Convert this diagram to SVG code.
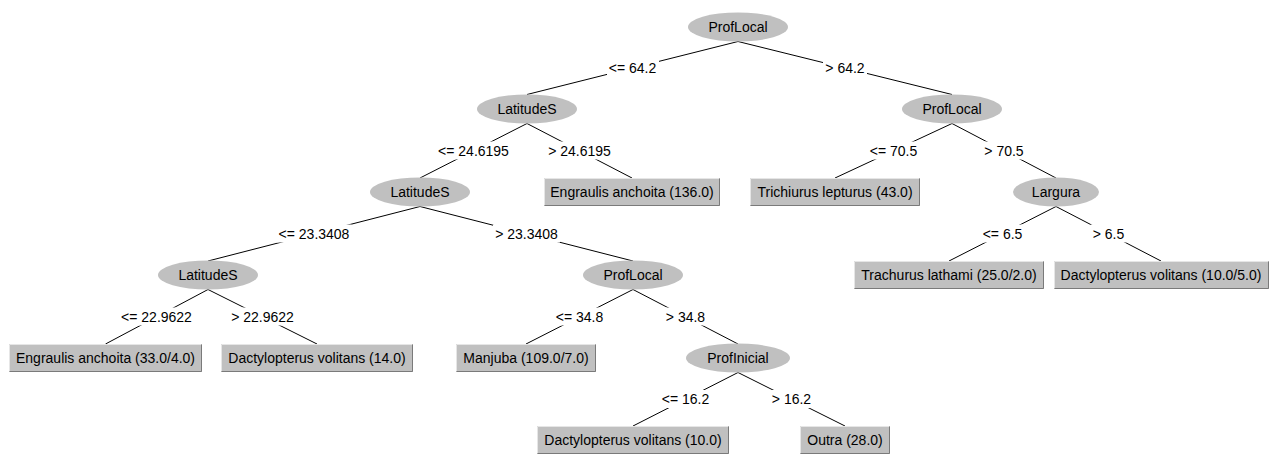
<svg xmlns="http://www.w3.org/2000/svg" width="1272" height="455" viewBox="0 0 1272 455">
  <style>
    text { font-family: "Liberation Sans", Arial, sans-serif; font-size: 14px; fill: #000; text-anchor: middle; }
    .split { fill: #c0c0c0; stroke: none; }
    .leaf { fill: #c0c0c0; stroke: none; }
    .hi { fill: none; stroke: #e6e6e6; stroke-width: 1; }
    .lo { fill: none; stroke: #7a7a7a; stroke-width: 1; }
    .edge { stroke: #000; stroke-width: 1; fill: none; }
    .lblbg { fill: #fff; stroke: none; }
  </style>

  <rect x="0" y="0" width="1272" height="455" fill="#fff"/>

  <!-- connectors: parent bottom-centre to child top-centre, labels on white plates -->
  <g id="edges">
    <line class="edge" x1="738" y1="41.5" x2="527" y2="94.5"/>
    <line class="edge" x1="738" y1="41.5" x2="952" y2="94.5"/>
    <line class="edge" x1="527" y1="123.5" x2="420" y2="178"/>
    <line class="edge" x1="527" y1="123.5" x2="632" y2="178"/>
    <line class="edge" x1="952" y1="123.5" x2="835" y2="178"/>
    <line class="edge" x1="952" y1="123.5" x2="1056" y2="178"/>
    <line class="edge" x1="420" y1="206.5" x2="208" y2="261"/>
    <line class="edge" x1="420" y1="206.5" x2="633" y2="261"/>
    <line class="edge" x1="1056" y1="206.5" x2="949" y2="261"/>
    <line class="edge" x1="1056" y1="206.5" x2="1161" y2="261"/>
    <line class="edge" x1="208" y1="289.5" x2="105.5" y2="344"/>
    <line class="edge" x1="208" y1="289.5" x2="317" y2="344"/>
    <line class="edge" x1="633" y1="289.5" x2="526" y2="344"/>
    <line class="edge" x1="633" y1="289.5" x2="738" y2="344"/>
    <line class="edge" x1="738" y1="372.5" x2="633" y2="426"/>
    <line class="edge" x1="738" y1="372.5" x2="845" y2="426"/>

    <rect class="lblbg" x="607" y="59" width="52" height="18"/>
    <text x="632.5" y="73">&lt;= 64.2</text>
    <rect class="lblbg" x="823" y="59" width="44" height="18"/>
    <text x="845" y="73">&gt; 64.2</text>

    <rect class="lblbg" x="436" y="141.5" width="75" height="18"/>
    <text x="473.5" y="155.5">&lt;= 24.6195</text>
    <rect class="lblbg" x="546" y="141.5" width="67" height="18"/>
    <text x="579.5" y="155.5">&gt; 24.6195</text>
    <rect class="lblbg" x="868" y="141.5" width="52" height="18"/>
    <text x="893.5" y="155.5">&lt;= 70.5</text>
    <rect class="lblbg" x="982" y="141.5" width="44" height="18"/>
    <text x="1004" y="155.5">&gt; 70.5</text>

    <rect class="lblbg" x="276.5" y="224.5" width="75" height="18"/>
    <text x="314" y="238.5">&lt;= 23.3408</text>
    <rect class="lblbg" x="493" y="224.5" width="67" height="18"/>
    <text x="526.5" y="238.5">&gt; 23.3408</text>
    <rect class="lblbg" x="980.5" y="224.5" width="44" height="18"/>
    <text x="1002.5" y="238.5">&lt;= 6.5</text>
    <rect class="lblbg" x="1090.5" y="224.5" width="36" height="18"/>
    <text x="1108.5" y="238.5">&gt; 6.5</text>

    <rect class="lblbg" x="119" y="307.5" width="75" height="18"/>
    <text x="156.5" y="321.5">&lt;= 22.9622</text>
    <rect class="lblbg" x="229" y="307.5" width="67" height="18"/>
    <text x="262.5" y="321.5">&gt; 22.9622</text>
    <rect class="lblbg" x="554" y="307.5" width="52" height="18"/>
    <text x="579.5" y="321.5">&lt;= 34.8</text>
    <rect class="lblbg" x="663.5" y="307.5" width="44" height="18"/>
    <text x="685.5" y="321.5">&gt; 34.8</text>

    <rect class="lblbg" x="660" y="390" width="52" height="18"/>
    <text x="685.5" y="404">&lt;= 16.2</text>
    <rect class="lblbg" x="769.5" y="390" width="44" height="18"/>
    <text x="791.5" y="404">&gt; 16.2</text>
  </g>

  <!-- split nodes -->
  <g id="n0"><ellipse class="split" cx="738" cy="27" rx="50" ry="14.5"/><text x="738" y="32">ProfLocal</text></g>
  <g id="n1"><ellipse class="split" cx="527" cy="109" rx="50" ry="14.5"/><text x="527" y="114">LatitudeS</text></g>
  <g id="n2"><ellipse class="split" cx="952" cy="109" rx="50" ry="14.5"/><text x="952" y="114">ProfLocal</text></g>
  <g id="n3"><ellipse class="split" cx="420" cy="192" rx="50" ry="14.5"/><text x="420" y="197">LatitudeS</text></g>
  <g id="n6"><ellipse class="split" cx="1056" cy="192" rx="43" ry="14.5"/><text x="1056" y="197">Largura</text></g>
  <g id="n7"><ellipse class="split" cx="208" cy="275" rx="50" ry="14.5"/><text x="208" y="280">LatitudeS</text></g>
  <g id="n8"><ellipse class="split" cx="633" cy="275" rx="50" ry="14.5"/><text x="633" y="280">ProfLocal</text></g>
  <g id="n13"><ellipse class="split" cx="738" cy="358" rx="52" ry="14.5"/><text x="738" y="363">ProfInicial</text></g>

  <!-- leaves -->
  <g id="n4">
    <rect class="leaf" x="544" y="178" width="176" height="28"/>
    <path class="hi" d="M544.5 205.5V178.5H719.5"/><path class="lo" d="M544.5 205.5H719.5V178.5"/>
    <text x="632" y="197">Engraulis anchoita (136.0)</text>
  </g>
  <g id="n5">
    <rect class="leaf" x="750" y="178" width="170" height="28"/>
    <path class="hi" d="M750.5 205.5V178.5H919.5"/><path class="lo" d="M750.5 205.5H919.5V178.5"/>
    <text x="835" y="197">Trichiurus lepturus (43.0)</text>
  </g>
  <g id="n9">
    <rect class="leaf" x="854" y="261" width="190" height="28"/>
    <path class="hi" d="M854.5 288.5V261.5H1043.5"/><path class="lo" d="M854.5 288.5H1043.5V261.5"/>
    <text x="949" y="280">Trachurus lathami (25.0/2.0)</text>
  </g>
  <g id="n10">
    <rect class="leaf" x="1054" y="261" width="215" height="28"/>
    <path class="hi" d="M1054.5 288.5V261.5H1268.5"/><path class="lo" d="M1054.5 288.5H1268.5V261.5"/>
    <text x="1161" y="280">Dactylopterus volitans (10.0/5.0)</text>
  </g>
  <g id="n11">
    <rect class="leaf" x="9" y="344" width="193" height="28"/>
    <path class="hi" d="M9.5 371.5V344.5H201.5"/><path class="lo" d="M9.5 371.5H201.5V344.5"/>
    <text x="105.5" y="363">Engraulis anchoita (33.0/4.0)</text>
  </g>
  <g id="n12">
    <rect class="leaf" x="221" y="344" width="192" height="28"/>
    <path class="hi" d="M221.5 371.5V344.5H412.5"/><path class="lo" d="M221.5 371.5H412.5V344.5"/>
    <text x="317" y="363">Dactylopterus volitans (14.0)</text>
  </g>
  <g id="n14">
    <rect class="leaf" x="456" y="344" width="140" height="28"/>
    <path class="hi" d="M456.5 371.5V344.5H595.5"/><path class="lo" d="M456.5 371.5H595.5V344.5"/>
    <text x="526" y="363">Manjuba (109.0/7.0)</text>
  </g>
  <g id="n15">
    <rect class="leaf" x="537" y="426" width="192" height="28"/>
    <path class="hi" d="M537.5 453.5V426.5H728.5"/><path class="lo" d="M537.5 453.5H728.5V426.5"/>
    <text x="633" y="445">Dactylopterus volitans (10.0)</text>
  </g>
  <g id="n16">
    <rect class="leaf" x="800" y="426" width="90" height="28"/>
    <path class="hi" d="M800.5 453.5V426.5H889.5"/><path class="lo" d="M800.5 453.5H889.5V426.5"/>
    <text x="845" y="445">Outra (28.0)</text>
  </g>
</svg>
